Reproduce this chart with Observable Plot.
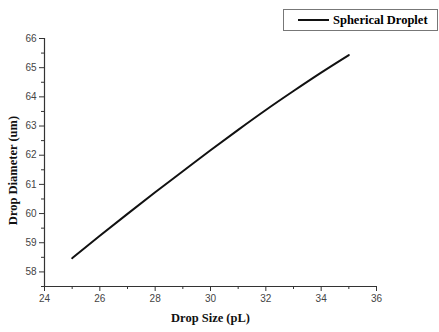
<!DOCTYPE html>
<html>
<head>
<meta charset="utf-8">
<script src="https://cdn.jsdelivr.net/npm/d3@7"></script>
<script src="https://cdn.jsdelivr.net/npm/@observablehq/plot@0.6"></script>
<style>
  html, body { margin: 0; padding: 0; background: #fff; }
  #wrap { position: relative; width: 439px; height: 332px; overflow: hidden; }
  #legend {
    position: absolute; left: 283px; top: 9px; width: 153px; height: 20px;
    border: 1px solid #777; background: #fff; box-sizing: content-box;
    font-family: "Liberation Serif", "Times New Roman", serif; font-weight: bold; font-size: 12.5px;
    display: flex; align-items: center;
  }
  #legend .swatch { width: 31px; height: 0; border-top: 2px solid #111; margin-left: 14px; margin-right: 4px; }
</style>
</head>
<body>
<div id="wrap">
  <div id="chart"></div>
  <div id="legend"><span class="swatch"></span><span id="legendText"></span></div>
</div>
<script>
// Data
const dropSize = [25, 26, 27, 28, 29, 30, 31, 32, 33, 34, 35];
const dropDiameter = [58.47, 59.24, 59.99, 60.73, 61.45, 62.17, 62.87, 63.55, 64.20, 64.83, 65.43];
const seriesName = "Spherical Droplet";
const xTicks = [24, 26, 28, 30, 32, 34, 36];
const xMinorTicks = [25, 27, 29, 31, 33, 35];
const yTicks = [58, 59, 60, 61, 62, 63, 64, 65, 66];
const yMinorTicks = [57.5, 58.5, 59.5, 60.5, 61.5, 62.5, 63.5, 64.5, 65.5];
const xLabel = "Drop Size (pL)";
const yLabel = "Drop Diameter (um)";

const data = dropSize.map((x, i) => ({x, y: dropDiameter[i]}));

const chart = Plot.plot({
  width: 439,
  height: 332,
  marginLeft: 44,
  marginRight: 63,
  marginTop: 38,
  marginBottom: 46,
  style: {fontFamily: "Liberation Sans, Arial, sans-serif", fontSize: "10px", background: "#fff"},
  x: {domain: [24, 36]},
  y: {domain: [57.5, 66]},
  marks: [
    Plot.ruleX([24], {stroke: "#333", strokeWidth: 1.2}),
    Plot.ruleY([57.5], {stroke: "#333", strokeWidth: 1.2}),
    Plot.axisX({ticks: xTicks, tickSize: 5, tickPadding: 3, stroke: "#333", fill: "#444", label: null, fontSize: 10}),
    Plot.axisX({ticks: xMinorTicks, tickSize: 3, text: null, stroke: "#333", label: null}),
    Plot.axisY({ticks: yTicks, tickSize: 5, tickPadding: 3, stroke: "#333", fill: "#444", label: null, fontSize: 10}),
    Plot.axisY({ticks: yMinorTicks, tickSize: 3, text: null, stroke: "#333", label: null}),
    Plot.line(data, {x: "x", y: "y", stroke: "#111", strokeWidth: 2, curve: "monotone-x"}),
    Plot.text([xLabel], {frameAnchor: "bottom", dy: 35, text: d => d, fontFamily: "Liberation Serif, Times New Roman, serif", fontWeight: "bold", fontSize: 12.5, fill: "#111"}),
    Plot.text([yLabel], {frameAnchor: "left", textAnchor: "middle", dx: -32, dy: 8, rotate: -90, text: d => d, fontFamily: "Liberation Serif, Times New Roman, serif", fontWeight: "bold", fontSize: 12.5, fill: "#111"})
  ]
});
document.getElementById("chart").appendChild(chart);
document.getElementById("legendText").textContent = seriesName;
</script>
</body>
</html>
